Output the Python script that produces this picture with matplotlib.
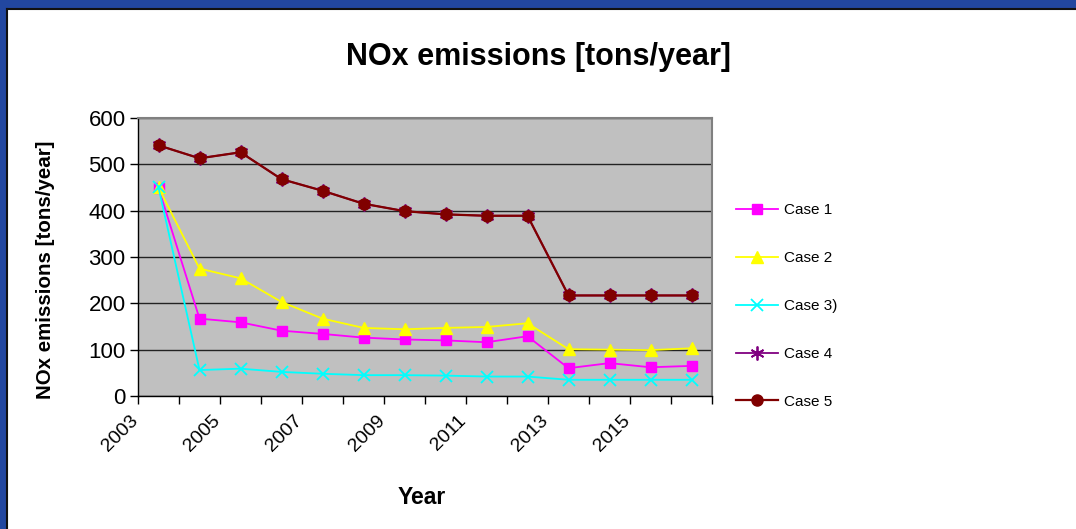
import matplotlib
matplotlib.use("Agg")
import matplotlib.pyplot as plt
from matplotlib.patches import Rectangle
from matplotlib.lines import Line2D
from matplotlib.transforms import ScaledTranslation
import numpy as np

years = [2003, 2004, 2005, 2006, 2007, 2008, 2009, 2010, 2011, 2012, 2013, 2014, 2015, 2016]
case1 = [449, 167, 159, 141, 134, 126, 122, 120, 116, 129, 60, 71, 62, 65]
case2 = [450, 275, 254, 203, 167, 147, 144, 147, 149, 157, 101, 100, 99, 103]
case3 = [450, 56, 59, 52, 48, 45, 45, 44, 42, 42, 35, 35, 35, 35]
case4 = [541, 513, 526, 468, 443, 415, 399, 392, 389, 389, 217, 217, 217, 217]
case5 = [541, 513, 526, 468, 443, 415, 399, 392, 389, 389, 217, 217, 217, 217]
series_names = ["Case 1", "Case 2", "Case 3)", "Case 4", "Case 5"]
yticks = [0, 100, 200, 300, 400, 500, 600]

plt.rcParams['font.family'] = ['Liberation Sans', 'DejaVu Sans']

W, H = 1076, 529
fig = plt.figure(figsize=(W / 100, H / 100), dpi=100)
fig.patch.set_facecolor("white")

# frame
blue = "#2247A0"
fig.patches.append(Rectangle((0, 1 - 8 / H), 1, 8 / H, transform=fig.transFigure, color=blue, zorder=0))
fig.patches.append(Rectangle((0, 0), 6 / W, 1, transform=fig.transFigure, color=blue, zorder=0))
fig.lines.append(Line2D([6.5 / W, 1], [1 - 8.5 / H, 1 - 8.5 / H], transform=fig.transFigure, color="#111111", lw=1.5))
fig.lines.append(Line2D([6.5 / W, 6.5 / W], [0, 1 - 8.5 / H], transform=fig.transFigure, color="#111111", lw=1.5))

left, right, top, bottom = 138, 712, 118, 396
ax = fig.add_axes([left / W, 1 - bottom / H, (right - left) / W, (bottom - top) / H])
ax.set_facecolor("#C0C0C0")

x = np.arange(len(years))
styles = [
    dict(color="#FF00FF", marker="s", ms=7, mfc="#FF00FF", mec="#FF00FF", lw=1.3),
    dict(color="#FFFF00", marker="^", ms=8, mfc="#FFFF00", mec="#FFFF00", lw=1.3),
    dict(color="#00FFFF", marker="x", ms=8, mew=1.3, lw=1.3),
    dict(color="#800080", marker=(6, 2, 0), ms=10, mew=1.3, lw=1.3),
    dict(color="#800000", marker="o", ms=8, mfc="#800000", mec="#800000", lw=1.6),
]
data = [case1, case2, case3, case4, case5]
handles = []
for vals, name, st in zip(data, series_names, styles):
    h, = ax.plot(x, vals, label=name, clip_on=False, **st)
    handles.append(h)

ax.set_xlim(-0.5, len(years) - 0.5)
ax.set_ylim(0, 600)
ax.set_yticks(yticks)
ax.set_yticklabels([str(v) for v in yticks])
ax.grid(axis="y", color="#222222", lw=1)
ax.set_axisbelow(True)

tick_pos = np.arange(-0.5, len(years), 1.0)
labels = [str(y) if (y - 2003) % 2 == 0 else "" for y in years] + [""]
ax.set_xticks(tick_pos)
ax.set_xticklabels(labels, rotation=45, ha="right", va="bottom", rotation_mode="anchor")
ax.tick_params(axis="x", length=6, width=1, pad=14, labelsize=14)
ax.tick_params(axis="y", length=6, width=1, pad=3, labelsize=16)
off = ScaledTranslation(4 / 100, 0, fig.dpi_scale_trans)
for lab in ax.get_xticklabels():
    lab.set_transform(lab.get_transform() + off)

for s in ["top", "right"]:
    ax.spines[s].set_color("#808080")
    ax.spines[s].set_linewidth(1.5)
for s in ["left", "bottom"]:
    ax.spines[s].set_color("#000000")
    ax.spines[s].set_linewidth(1)

fig.text(538 / W, 1 - 57 / H, "NOx emissions [tons/year]", ha="center", va="center",
         fontsize=22, fontweight="bold")
fig.text(46 / W, 1 - 270 / H, "NOx emissions [tons/year]", ha="center", va="center",
         rotation=90, fontsize=14.8, fontweight="bold")
fig.text(422 / W, 1 - 497 / H, "Year", ha="center", va="center", fontsize=16.5, fontweight="bold")

leg = fig.legend(handles=handles, loc="center left", bbox_to_anchor=(722 / W, 1 - 306 / H),
                 frameon=False, fontsize=11, labelspacing=2.22, handlelength=2.75,
                 handletextpad=0.4)

fig.savefig("out.png", dpi=100)
